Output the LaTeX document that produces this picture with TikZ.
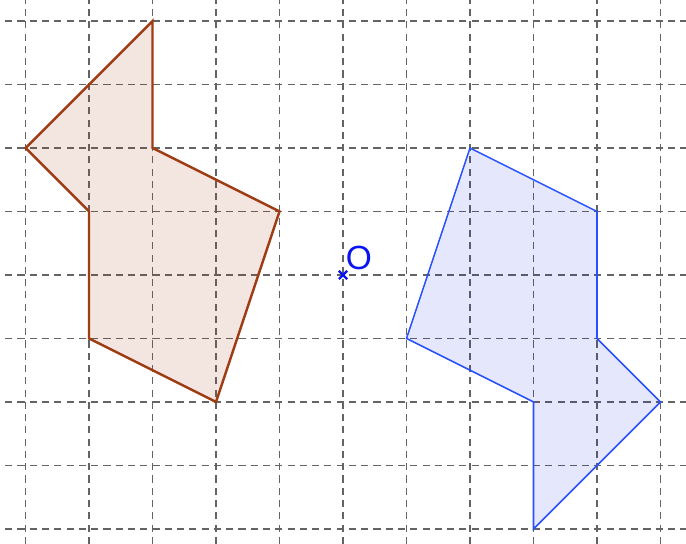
\documentclass[tikz,border=0pt]{standalone}
\usepackage{fontspec}
\setsansfont{Liberation Sans}
\usetikzlibrary{calc}
\definecolor{gridgray}{RGB}{100,100,100}
\definecolor{brownline}{RGB}{160,60,20}
\definecolor{brownfill}{RGB}{153,51,0}
\definecolor{blueline}{RGB}{40,80,255}
\definecolor{bluefill}{RGB}{0,25,225}
\definecolor{pointblue}{RGB}{10,20,240}
\tikzset{
  gridline/.style={gridgray, line width=0.65pt, dash pattern=on 3.2pt off 2.3pt},
  brownpoly/.style={fill=brownfill, fill opacity=0.12},
  bluepoly/.style={fill=bluefill, fill opacity=0.1},
}
\begin{document}
\begin{tikzpicture}[x=1cm,y=1cm]
\useasboundingbox (-5.402,-4.236) rectangle (5.402,4.331);
% grid
\foreach \i in {-5,...,5} \draw[gridline] (\i,-4.236) -- (\i,4.331);
\foreach \j in {-4,...,4} \draw[gridline] (-5.32,\j) -- (5.402,\j);
% brown polygon
\coordinate (a1) at (-3,4);
\coordinate (a2) at (-3,2);
\coordinate (a3) at (-1,1);
\coordinate (a4) at (-2,-2);
\coordinate (a5) at (-4,-1);
\coordinate (a6) at (-4,1);
\coordinate (a7) at (-5,2);
\path[brownpoly] (a1) -- (a2) -- (a3) -- (a4) -- (a5) -- (a6) -- (a7) -- cycle;
\draw[brownline, line width=1.1pt, line join=miter] (a1) -- (a2) -- (a3) -- (a4) -- (a5) -- (a6) -- (a7) -- cycle;
% blue polygon
\coordinate (b1) at (3,-4);
\coordinate (b2) at (3,-2);
\coordinate (b3) at (1,-1);
\coordinate (b4) at (2,2);
\coordinate (b5) at (4,1);
\coordinate (b6) at (4,-1);
\coordinate (b7) at (5,-2);
\path[bluepoly] (b1) -- (b2) -- (b3) -- (b4) -- (b5) -- (b6) -- (b7) -- cycle;
\draw[blueline, line width=0.7pt, line join=miter] (b1) -- (b2) -- (b3) -- (b4) -- (b5) -- (b6) -- (b7) -- cycle;
% point O
\coordinate (O) at (0,0);
\draw[pointblue, line width=1pt] ($(O)+(-0.065,-0.065)$) -- ($(O)+(0.065,0.065)$) ($(O)+(-0.065,0.065)$) -- ($(O)+(0.065,-0.065)$);
\node[text=pointblue, font=\sffamily\fontsize{15}{18}\selectfont, inner sep=0pt] (Olabel) at (0.25,0.27) {O};
\end{tikzpicture}
\end{document}
